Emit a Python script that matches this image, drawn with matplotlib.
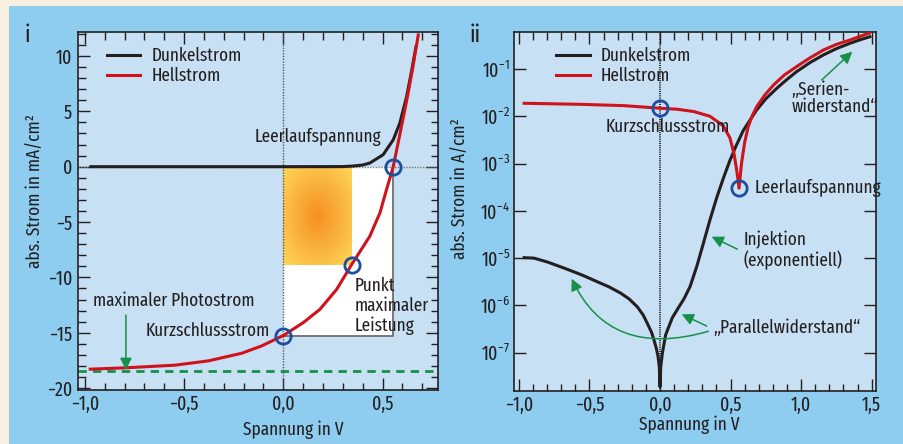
import numpy as np
import matplotlib
matplotlib.use('Agg')
import matplotlib.pyplot as plt
from matplotlib.patches import Rectangle
from matplotlib.ticker import MultipleLocator, FixedLocator, FuncFormatter

# --- Daten ---
# Panel i: lineare Darstellung (mA/cm^2)
dunkel_v = [-0.97, 0.0, 0.30, 0.353, 0.40, 0.436, 0.503, 0.554, 0.587, 0.621, 0.646, 0.668]
dunkel_i = [0.0, 0.0, 0.01, 0.06, 0.15, 0.33, 1.08, 2.43, 3.93, 6.3, 8.6, 10.8]
hell_v = [-0.973, -0.797, -0.545, -0.377, -0.209, -0.109, 0.0, 0.101, 0.185, 0.269,
          0.344, 0.436, 0.487, 0.52, 0.554, 0.587, 0.621, 0.65, 0.68]
hell_i = [-18.29, -18.17, -17.93, -17.54, -16.85, -16.19, -15.25, -14.08, -12.88, -11.08,
          -8.85, -6.28, -4.17, -2.07, 0.0, 2.9, 5.9, 8.7, 11.9]
# markante Punkte: Kurzschluss, max. Leistung, Leerlauf
punkt_v = [0.0, 0.344, 0.554]
punkt_i = [-15.25, -8.85, 0.0]
photostrom = -18.47

# Panel ii: logarithmische Darstellung (A/cm^2), log10-Werte
dunkel2_v = [-0.963, -0.893, -0.80, -0.68, -0.55, -0.444, -0.36, -0.279, -0.22, -0.161,
             -0.12, -0.090, -0.06, -0.043, -0.025, -0.014, -0.005, 0.0,
             0.005, 0.017, 0.040, 0.087, 0.130, 0.170, 0.213, 0.26, 0.307, 0.354, 0.402,
             0.45, 0.496, 0.540, 0.590, 0.685, 0.75, 0.827, 0.90, 0.968, 1.06, 1.157,
             1.25, 1.346, 1.42, 1.488]
dunkel2_log = [-4.99, -5.0, -5.08, -5.21, -5.36, -5.50, -5.61, -5.74, -5.86, -6.03,
               -6.2, -6.38, -6.57, -6.73, -6.92, -7.08, -7.3, -7.72,
               -7.3, -7.0, -6.62, -6.26, -6.05, -5.86, -5.6, -5.18, -4.69, -4.19, -3.72,
               -3.3, -2.93, -2.62, -2.30, -1.867, -1.63, -1.41, -1.22, -1.057, -0.87, -0.704,
               -0.57, -0.457, -0.38, -0.317]
hell2_v = [-0.963, -0.562, -0.255, 0.0, 0.12, 0.24, 0.354, 0.448, 0.496, 0.525, 0.544,
           0.560, 0.578, 0.60, 0.625, 0.655, 0.685, 0.74, 0.804, 0.88, 0.968, 1.06, 1.157,
           1.25, 1.346, 1.483]
hell2_log = [-1.725, -1.747, -1.775, -1.83, -1.85, -1.90, -2.0, -2.20, -2.46, -2.80, -3.15,
             -3.52, -2.99, -2.55, -2.22, -1.98, -1.80, -1.56, -1.34, -1.13, -0.95, -0.77,
             -0.60, -0.48, -0.387, -0.24]
punkt2_v = [0.0, 0.560]
punkt2_log = [-1.83, -3.52]

dekaden = [-7, -6, -5, -4, -3, -2, -1]

# --- Stil ---
SCHRIFT = 'Fira Sans Extra Condensed'
plt.rcParams['font.family'] = [SCHRIFT, 'DejaVu Sans']
plt.rcParams['mathtext.fontset'] = 'custom'
plt.rcParams['mathtext.rm'] = SCHRIFT
plt.rcParams['mathtext.it'] = SCHRIFT + ':italic'
plt.rcParams['mathtext.bf'] = SCHRIFT + ':bold'
plt.rcParams['text.color'] = '#231f20'
plt.rcParams['axes.labelcolor'] = '#231f20'

ROT = '#d0121b'
SCHWARZ = '#231f20'
BLAU = '#1d4f9e'
GRUEN = '#17904a'
INNEN = '#c8e0f3'
FS = 13.5

fig = plt.figure(figsize=(9.04, 4.44), dpi=100)
fig.patch.set_facecolor('#f8efe0')
fig.add_artist(Rectangle((9/904, 0), 1, 438/444, transform=fig.transFigure,
                         facecolor='#8fcdf0', edgecolor='none', zorder=0))

W, H = 904, 444
ax1 = fig.add_axes([78.3/W, (H-390.3)/H, 360/W, 358/H])
ax2 = fig.add_axes([514.3/W, (H-391.3)/H, 361.7/W, 359.3/H])


def komma(v, pos=None):
    s = f'{v:.1f}'.replace('.', ',')
    return s.replace('-', '\u2212')


def ganz(v, pos=None):
    return f'{v:.0f}'.replace('-', '\u2212')


for ax in (ax1, ax2):
    ax.set_facecolor(INNEN)
    for sp in ax.spines.values():
        sp.set_linewidth(1.2)
        sp.set_color(SCHWARZ)
    ax.tick_params(which='both', direction='in', top=True, right=True,
                   color=SCHWARZ, width=1.0, labelsize=14, labelcolor=SCHWARZ)
    ax.tick_params(which='major', length=8.6)
    ax.tick_params(which='minor', length=5.4)
    ax.xaxis.set_major_locator(MultipleLocator(0.5))
    ax.xaxis.set_minor_locator(MultipleLocator(0.1))
    ax.xaxis.set_major_formatter(FuncFormatter(komma))
    ax.tick_params(axis='x', pad=3.2)

# ---------- Panel i ----------
ax1.plot(dunkel_v, dunkel_i, color=SCHWARZ, lw=2.2, zorder=3, label='Dunkelstrom')
ax1.plot(hell_v, hell_i, color=ROT, lw=2.2, zorder=4, label='Hellstrom')

isc, vmp, imp, voc = punkt_i[0], punkt_v[1], punkt_i[1], punkt_v[2]
ax1.add_patch(Rectangle((0, isc), voc, -isc, facecolor='white', edgecolor='none', zorder=1))
ax1.plot([voc, voc, 0], [0, isc, isc], color='#6d6e71', lw=1.3, zorder=1.2)

gx, gy = np.meshgrid(np.linspace(-1, 1, 120), np.linspace(-1, 1, 120))
r = np.clip(np.hypot(gx, gy) / 1.45, 0, 1)
c0 = np.array([0.96, 0.56, 0.14])
c1 = np.array([1.0, 0.85, 0.35])
ax1.imshow(c0 + (c1 - c0) * r[..., None], extent=[0, vmp, imp, 0],
           aspect='auto', zorder=1.5, interpolation='bilinear')

ax1.axvline(0, color='#555555', lw=1.0, ls=(0, (1, 1)), zorder=2)
ax1.axhline(0, color='#777777', lw=1.0, ls=(0, (1, 1)), zorder=2)
ax1.axhline(photostrom, color=GRUEN, lw=2.0, ls=(0, (3, 2.2)), zorder=2)

ax1.plot(punkt_v, punkt_i, 'o', ms=11, mfc='none', mec=BLAU, mew=2.0, zorder=5)

ax1.set_xlim(-1.033, 0.781)
ax1.set_ylim(-20.2, 12.14)
ax1.yaxis.set_major_locator(MultipleLocator(5))
ax1.yaxis.set_minor_locator(MultipleLocator(1))
ax1.yaxis.set_major_formatter(FuncFormatter(ganz))
ax1.tick_params(axis='y', pad=4.5)

ax1.set_xlabel('Spannung in V', fontsize=FS)
ax1.xaxis.set_label_coords(0.597, -0.083)
ax1.set_ylabel('abs. Strom in mA/cm\u00b2', fontsize=FS)
ax1.yaxis.set_label_coords(-0.095, 0.557)

ax1.text(0.175, 2.67, 'Leerlaufspannung', fontsize=FS, ha='center', va='center', zorder=6)
ax1.text(0.361, -12.6, 'Punkt\nmaximaler\nLeistung', fontsize=FS, ha='left', va='center',
         linespacing=1.13, zorder=6)
ax1.text(-0.067, -14.84, 'Kurzschlussstrom', fontsize=FS, ha='right', va='center', zorder=6)
ax1.text(-0.552, -12.13, 'maximaler Photostrom', fontsize=FS, ha='center', va='center', zorder=6)
ax1.annotate('', xy=(-0.793, -18.35), xytext=(-0.793, -13.4),
             arrowprops=dict(arrowstyle='-|>,head_length=0.7,head_width=0.35',
                             color=GRUEN, lw=1.1, shrinkA=0, shrinkB=0), zorder=6)

ax1.legend(loc='upper left', bbox_to_anchor=(0.079, 0.958), frameon=False, fontsize=FS,
           handlelength=1.8, handletextpad=0.6, labelspacing=0.12, borderpad=0,
           borderaxespad=0)

# ---------- Panel ii ----------
d2 = 10.0 ** np.array(dunkel2_log)
h2 = 10.0 ** np.array(hell2_log)
ax2.set_yscale('log')
ax2.plot(dunkel2_v, d2, color=SCHWARZ, lw=2.2, zorder=3, label='Dunkelstrom')
ax2.plot(hell2_v, h2, color=ROT, lw=2.2, zorder=4, label='Hellstrom')
ax2.axvline(0, color=SCHWARZ, lw=1.3, ls=(0, (0.6, 0.6)), zorder=2)
ax2.plot(punkt2_v, 10.0 ** np.array(punkt2_log), 'o', ms=11, mfc='none', mec=BLAU,
         mew=2.0, zorder=5)

ax2.set_xlim(-1.033, 1.531)
ax2.set_ylim(10 ** -7.816, 10 ** -0.2175)
ax2.yaxis.set_major_locator(FixedLocator([10.0 ** d for d in dekaden]))
ax2.yaxis.set_minor_locator(FixedLocator([]))
ax2.yaxis.set_major_formatter(FuncFormatter(lambda v, p: '$10^{%d}$' % round(np.log10(v))))
ax2.tick_params(axis='y', pad=3)

ax2.set_xlabel('Spannung in V', fontsize=FS)
ax2.xaxis.set_label_coords(0.483, -0.066)
ax2.set_ylabel('abs. Strom in A/cm\u00b2', fontsize=FS)
ax2.yaxis.set_label_coords(-0.125, 0.563)

ax2.text(0.057, 10 ** -2.22, 'Kurzschlussstrom', fontsize=FS, ha='center', va='center', zorder=6)
ax2.text(0.673, 10 ** -3.52, 'Leerlaufspannung', fontsize=FS, ha='left', va='center', zorder=6)
ax2.text(0.933, 10 ** -1.62, '\u201eSerien-\nwiderstand\u201c', fontsize=FS, ha='left',
         va='center', linespacing=0.92, zorder=6)
ax2.text(0.59, 10 ** -4.83, 'Injektion\n(exponentiell)', fontsize=FS, ha='left',
         va='center', linespacing=1.12, zorder=6)
ax2.text(0.378, 10 ** -6.48, '\u201eParallelwiderstand\u201c', fontsize=FS, ha='left',
         va='center', zorder=6)

pfeil = dict(arrowstyle='-|>,head_length=0.7,head_width=0.35', color=GRUEN, lw=1.1,
             shrinkA=0, shrinkB=0)
ax2.annotate('', xy=(1.363, 10 ** -0.634), xytext=(1.146, 10 ** -1.233), arrowprops=pfeil)
ax2.annotate('', xy=(0.366, 10 ** -4.547), xytext=(0.548, 10 ** -4.81), arrowprops=pfeil)
ax2.annotate('', xy=(0.154, 10 ** -6.188), xytext=(0.331, 10 ** -6.436), arrowprops=pfeil)
ax2.annotate('', xy=(-0.626, 10 ** -5.435), xytext=(0.342, 10 ** -6.548),
             arrowprops=dict(pfeil, connectionstyle='angle3,angleA=16,angleB=-65'))

ax2.legend(loc='upper left', bbox_to_anchor=(0.115, 0.958), frameon=False, fontsize=FS,
           handlelength=1.8, handletextpad=0.6, labelspacing=0.12, borderpad=0,
           borderaxespad=0)

fig.text(27/W, 1 - 35/H, 'i', fontsize=17, ha='center', va='center')
fig.text(475/W, 1 - 35/H, 'ii', fontsize=17, ha='center', va='center')

fig.savefig('out.png', dpi=100, facecolor=fig.get_facecolor())
